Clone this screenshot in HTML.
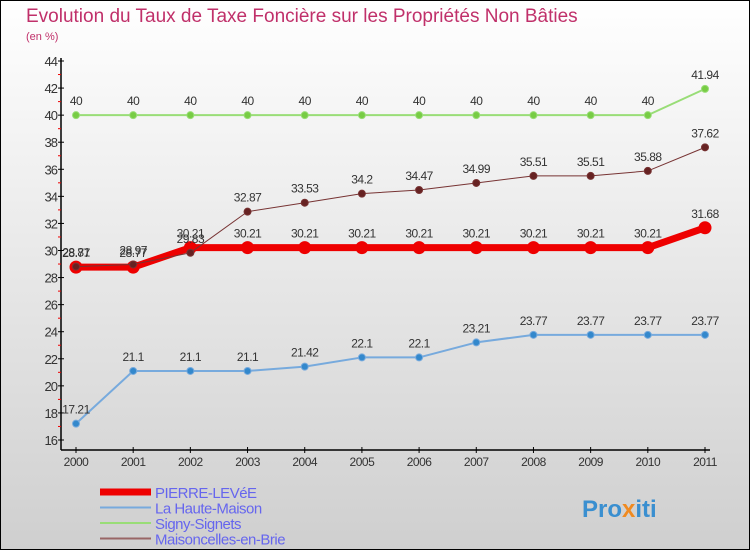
<!DOCTYPE html>
<html><head><meta charset="utf-8"><style>
body{margin:0}
svg{display:block;font-family:"Liberation Sans",sans-serif}
</style></head><body>
<svg width="750" height="550" viewBox="0 0 750 550">
<defs><linearGradient id="bg" x1="0" y1="0" x2="0" y2="1"><stop offset="0" stop-color="#ffffff"/><stop offset="1" stop-color="#cfcfcf"/></linearGradient></defs>
<rect x="0.5" y="0.5" width="749" height="549" fill="url(#bg)" stroke="#000"/>
<text x="26" y="22" font-size="19" fill="#c0306a">Evolution du Taux de Taxe Foncière sur les Propriétés Non Bâties</text>
<text x="26" y="40" font-size="11" fill="#c0306a">(en %)</text>
<g id="axes"></g>
<g id="series"></g>
<g id="legend"></g>
<text x="582" y="517" font-size="24" font-weight="bold" fill="#3a8fd0">Pro<tspan fill="#f08a20">x</tspan>iti</text>
</svg>
<script>
const years=[2000,2001,2002,2003,2004,2005,2006,2007,2008,2009,2010,2011];
const pierre=[28.77,28.77,30.21,30.21,30.21,30.21,30.21,30.21,30.21,30.21,30.21,31.68];
const haute=[17.21,21.1,21.1,21.1,21.42,22.1,22.1,23.21,23.77,23.77,23.77,23.77];
const signy=[40,40,40,40,40,40,40,40,40,40,40,41.94];
const maison=[28.81,28.97,29.83,32.87,33.53,34.2,34.47,34.99,35.51,35.51,35.88,37.62];
const yTicks=[16,18,20,22,24,26,28,30,32,34,36,38,40,42,44];
const NS="http://www.w3.org/2000/svg";
const X=i=>76+i*(705-76)/11;
const Y=v=>440-(v-16)*(440-61)/28;
function mk(p,t,a){const e=document.createElementNS(NS,t);for(const k in a)e.setAttribute(k,a[k]);p.appendChild(e);return e;}
const ax=document.getElementById('axes');
let l=mk(ax,'line',{x1:61,y1:58,x2:61,y2:450,stroke:'#000','stroke-width':1.5});


l=mk(ax,'line',{x1:61,y1:450,x2:710,y2:450,stroke:'#000','stroke-width':1.5});


yTicks.forEach(v=>{
 mk(ax,'line',{x1:58,y1:Y(v),x2:64,y2:Y(v),stroke:'#000'});
 if(v<44)mk(ax,'line',{x1:58,y1:Y(v+1),x2:61,y2:Y(v+1),stroke:'#e00'});
 const t=mk(ax,'text',{x:57,y:Y(v)+5,'font-size':13,fill:'#333','text-anchor':'end','letter-spacing':'-1'});
 t.textContent=v;
 
 
});
years.forEach((y,i)=>{
 mk(ax,'line',{x1:X(i),y1:447,x2:X(i),y2:453,stroke:'#000'});
 const t=mk(ax,'text',{x:X(i),y:466,'font-size':12,fill:'#333','text-anchor':'middle','letter-spacing':'-0.5'});
 t.textContent=y;
 
 
});
const sg=document.getElementById('series');
function series(data,color,w,r,fill,name){
 const g=mk(sg,'g',{});
 
 
 mk(g,'polyline',{points:data.map((v,i)=>X(i)+','+Y(v)).join(' '),fill:'none',stroke:color,'stroke-width':w,'stroke-linejoin':'round'});
 data.forEach((v,i)=>{
  const c=mk(g,'circle',{cx:X(i),cy:Y(v),r:r,fill:fill,stroke:color,'stroke-width':1});
  
  
  const t=mk(g,'text',{x:X(i),y:Y(v)-10,'font-size':12,fill:'#333','text-anchor':'middle','letter-spacing':'-0.5'});
  t.textContent=v;
  
  
 });
}
series(signy,'#99dd77',2,3.5,'#77cc44','signy-signets-series');
series(haute,'#77aadd',2,3.5,'#3388cc','la-haute-maison-series');
series(pierre,'#ee0000',7,6,'#ee0000','pierre-levee-series');
series(maison,'#773333',1,3.5,'#662222','maisoncelles-series');
const lg=document.getElementById('legend');
const names=['PIERRE-LEVéE','La Haute-Maison','Signy-Signets','Maisoncelles-en-Brie'];
const cols=['#ee0000','#77aadd','#99dd77','#996666'];
const ws=[7,2,2,2];
names.forEach((n,i)=>{
 const y=492+i*15.5;
 const g=mk(lg,'g',{});
 
 
 mk(g,'line',{x1:100,y1:y,x2:151,y2:y,stroke:cols[i],'stroke-width':ws[i]});
 const t=mk(g,'text',{x:155,y:y+6,'font-size':15,fill:'#6666ee','letter-spacing':'-0.5'});
 t.textContent=n;
});
</script>
</body></html>
